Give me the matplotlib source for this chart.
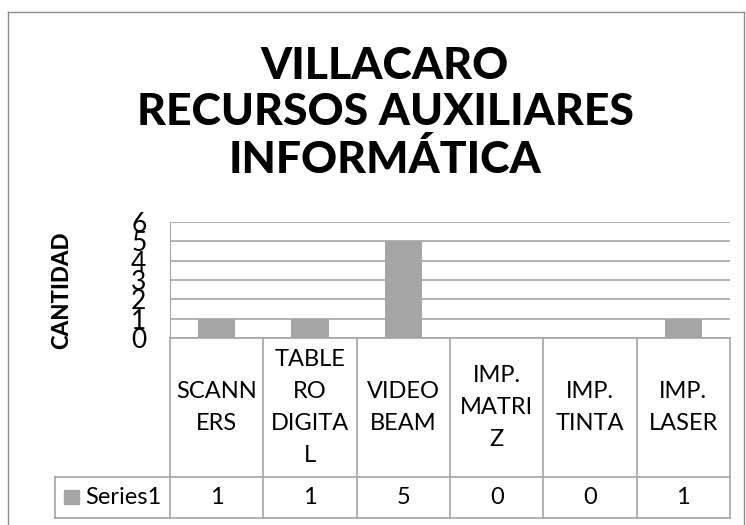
import matplotlib
matplotlib.use("Agg")
import matplotlib.pyplot as plt
from matplotlib.transforms import blended_transform_factory

# ---------- datos ----------
categorias = ["SCANN\nERS", "TABLE\nRO\nDIGITA\nL", "VIDEO\nBEAM",
              "IMP.\nMATRI\nZ", "IMP.\nTINTA", "IMP.\nLASER"]
valores = [1, 1, 5, 0, 0, 1]
serie = "Series1"
titulo = "VILLACARO\nRECURSOS AUXILIARES\nINFORMÁTICA"
eje_y = "CANTIDAD"

W, H = 746, 525
GRIS = "#A5A5A5"
LINEA = "#A6A6A6"
FUENTE = "Lato"

fig = plt.figure(figsize=(W / 100, H / 100), dpi=100)

def fx(px):  # pixel x -> fraccion figura
    return px / W

def fy(py):  # pixel y (desde arriba) -> fraccion figura
    return 1 - py / H

# borde exterior del grafico
for xs, ys in [((8, 8), (12, H)), ((8, 744), (12, 12)), ((744, 744), (12, H))]:
    fig.lines.append(plt.Line2D([fx(x) for x in xs], [fy(y) for y in ys],
                                transform=fig.transFigure, color="#8C8C8C", lw=1))

# area de trazado
top, bot, left, right = 222, 338, 170, 730
ax = fig.add_axes([fx(left), fy(bot), fx(right - left), (bot - top) / H])
x = list(range(len(valores)))
ax.bar(x, valores, width=0.4, color=GRIS, zorder=3)
ax.set_xlim(-0.5, len(valores) - 0.5)
ax.set_ylim(0, 6)
ax.set_yticks(range(0, 7))
ax.set_yticklabels([str(v) for v in range(0, 7)], fontsize=19, family=FUENTE)
ax.tick_params(axis="y", length=0, pad=17)
ax.set_xticks([])
ax.yaxis.grid(True, color=LINEA, lw=1.2, zorder=0)
for s in ["top", "right", "bottom"]:
    ax.spines[s].set_visible(False)
ax.spines["left"].set_color(LINEA)

fig.text(fx(385), fy(113), titulo, ha="center", va="center", fontsize=32,
         fontweight="black", family=FUENTE, linespacing=1.2)
fig.text(fx(62), fy(290), eje_y, ha="center", va="center", rotation=90,
         fontsize=16, fontweight="black", family=FUENTE)

# ---------- tabla de datos ----------
def ay(py):  # pixel y -> coordenadas del eje
    return (bot - py) / (bot - top)

tr = blended_transform_factory(ax.transData, ax.transAxes)
fila1, fila2, fila3 = 338, 477, 518
kw = dict(transform=tr, color=LINEA, lw=1.2, clip_on=False)
for i in range(len(valores) + 1):
    ax.plot([i - 0.5, i - 0.5], [ay(fila1), ay(fila3)], **kw)
ax.plot([-0.5, len(valores) - 0.5], [ay(fila1), ay(fila1)], **kw)

# lineas que incluyen la celda de la serie
fig.lines.append(plt.Line2D([fx(55), fx(right)], [fy(fila2), fy(fila2)],
                            transform=fig.transFigure, color=LINEA, lw=1.2))
fig.lines.append(plt.Line2D([fx(55), fx(right)], [fy(fila3), fy(fila3)],
                            transform=fig.transFigure, color=LINEA, lw=1.2))
fig.lines.append(plt.Line2D([fx(55), fx(55)], [fy(fila2), fy(fila3)],
                            transform=fig.transFigure, color=LINEA, lw=1.2))

for i, (c, v) in enumerate(zip(categorias, valores)):
    ax.text(i, ay((fila1 + fila2) / 2), c, transform=tr, ha="center", va="center",
            fontsize=17, family=FUENTE, linespacing=1.66)
    ax.text(i, ay((fila2 + fila3) / 2), str(v), transform=tr, ha="center",
            va="center", fontsize=17, family=FUENTE)

# leyenda de la serie
fig.patches.append(plt.Rectangle((fx(64), fy(504)), fx(15), 14 / H,
                                 transform=fig.transFigure, color=GRIS))
fig.text(fx(85), fy((fila2 + fila3) / 2), serie, ha="left", va="center",
         fontsize=17, family=FUENTE)

fig.savefig("out.png", dpi=100)
